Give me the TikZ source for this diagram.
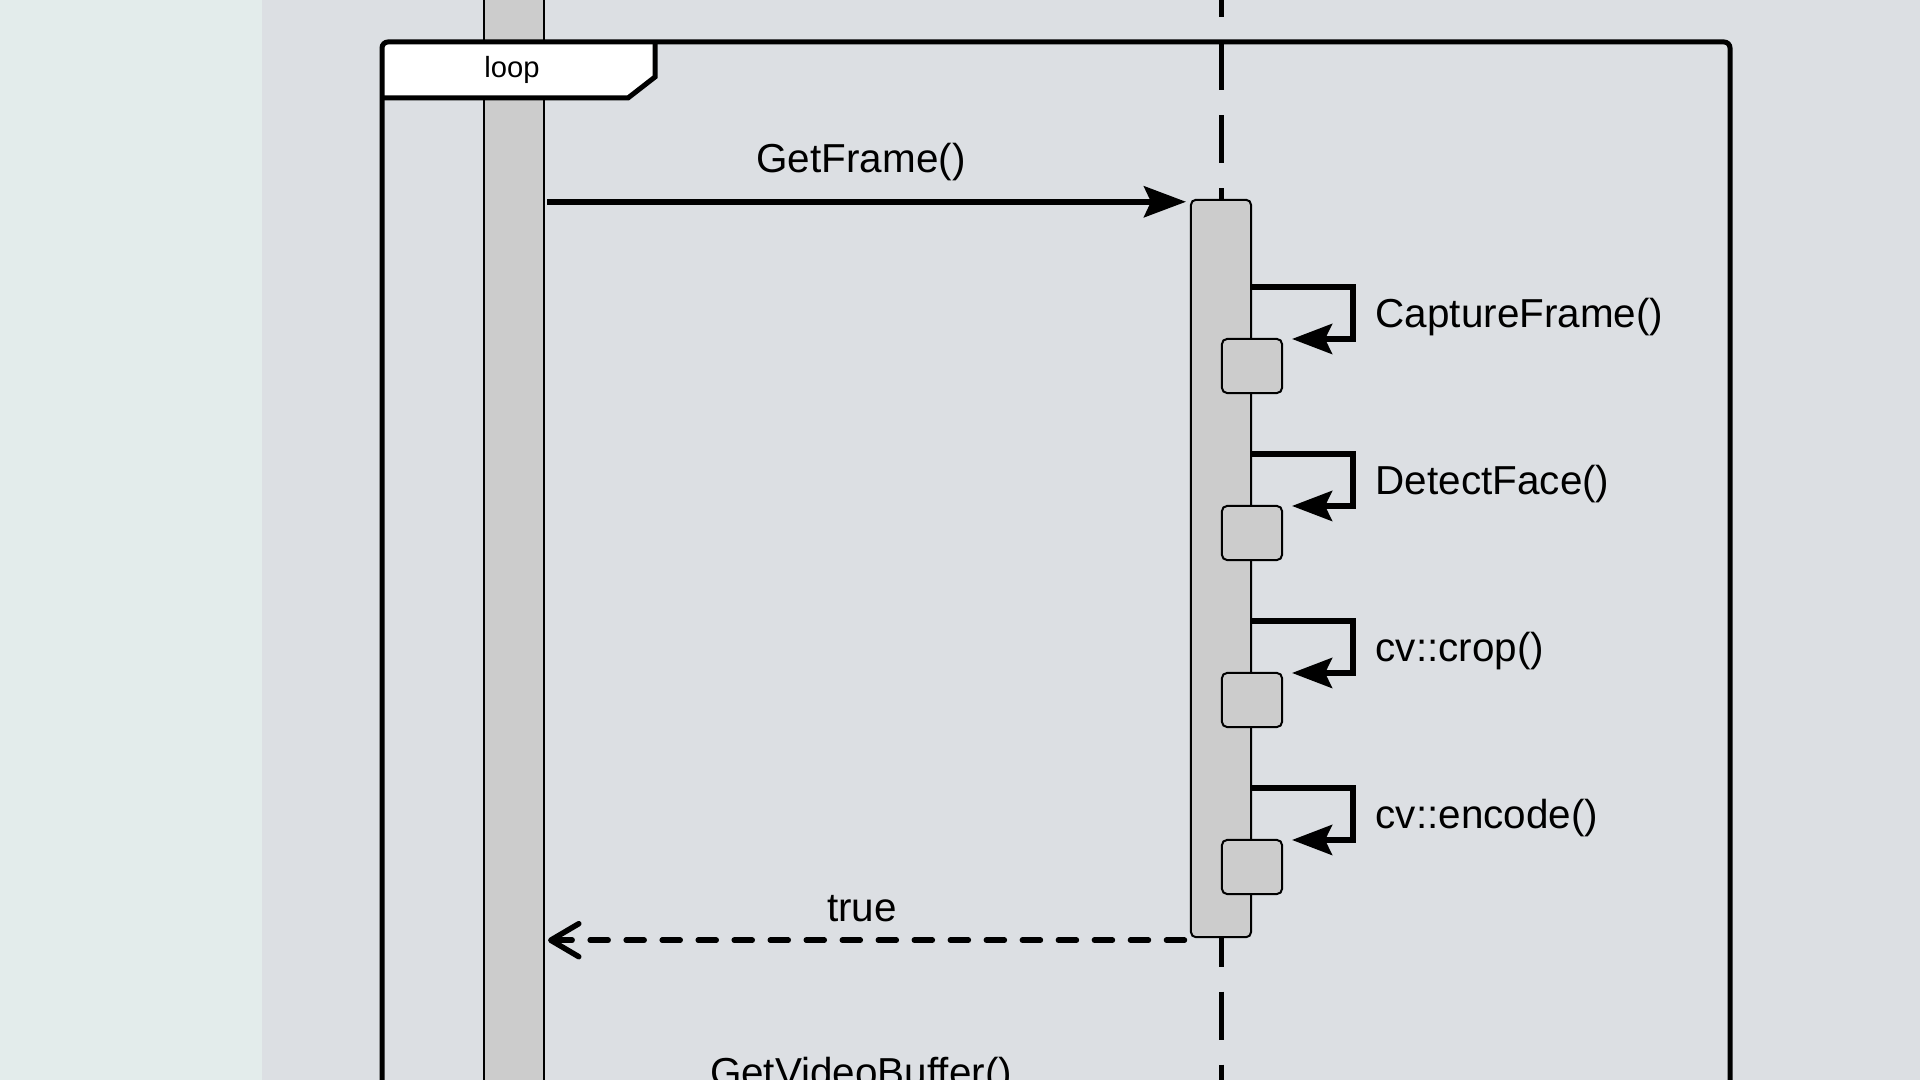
\documentclass[tikz,border=0pt]{standalone}
\usepackage{fontspec}
\setmainfont{Liberation Sans}
\usepackage{tikz}
\usetikzlibrary{calc, arrows.meta}
\definecolor{sidebg}{HTML}{E3ECEB}
\definecolor{pagebg}{HTML}{DCDFE3}
\definecolor{actgray}{HTML}{CCCCCC}
\tikzstyle{bar}     = [draw, fill=actgray, line width=0.02cm, inner sep=0, minimum width=0.6cm]
\tikzstyle{act}     = [bar, rounded corners=0.05cm]
\tikzstyle{msg}     = [line width=0.055cm, -{Stealth[length=0.42cm, width=0.31cm, inset=0.07cm]}]
\tikzstyle{selfmsg} = [line width=0.055cm, -{Stealth[length=0.40cm, width=0.30cm, inset=0.07cm]}]
\tikzstyle{reply}   = [line width=0.055cm, line cap=round, dash pattern=on 0.18cm off 0.18cm,
                       -{Straight Barb[length=0.28cm, width=0.33cm, round]}]
\tikzstyle{msgtext} = [font=\fontsize{11.5pt}{13pt}\selectfont, inner sep=0, anchor=base]

\begin{document}
\begin{tikzpicture}[x=0.01cm, y=-0.01cm]
  \useasboundingbox (0,0) rectangle (1920,1080);
  \clip (0,0) rectangle (1920,1080);

  % backdrop
  \fill[pagebg] (0,0) rectangle (1920,1080);
  \fill[sidebg] (0,0) rectangle (262,1080);

  % lifelines
  \node[bar, minimum height=11.4cm] (client) at (514,540) {};
  \coordinate (camtop) at (1221,-31);
  \coordinate (cambot) at (1221,1120);
  \draw[line width=0.05cm, dash pattern=on 0.48cm off 0.25cm] (camtop) -- (cambot);

  % loop frame
  \fill[white] (382,42) -- (655,42) -- (655,77) -- (628,98) -- (382,98) -- cycle;
  \draw[line width=0.05cm] (382,98) -- (628,98) -- (655,77) -- (655,42);
  \draw[line width=0.05cm, rounded corners=0.06cm] (382,1150) -- (382,42) -- (1730,42) -- (1730,1150);
  \node[font=\fontsize{8.3pt}{10pt}\selectfont, inner sep=0] (loop) at (512,70) {loop};

  % activation
  \node[act, minimum height=7.37cm] (frameact) at (1221,568.5) {};

  \coordinate (req) at ([yshift=-0.03cm]frameact.north west);
  \draw[msg, shorten <=0.02cm, shorten >=0.04cm] (client.east |- req) -- (req);
  \node[msgtext] (getframe) at (861,173) {GetFrame()};

  % self calls
  \foreach \yc/\txt [count=\i] in {366/CaptureFrame(), 533/DetectFace(), 700/cv::crop(), 867/cv::encode()}
  {
    \node[act, minimum height=0.54cm] (box\i) at (1252,\yc) {};
    \coordinate (call\i) at ($(box\i.north)+(0,-51)$);
    \draw[selfmsg] (frameact.east |- call\i) -| ($(box\i.north east)+(70,1)$) -- ($(box\i.north east)+(9,1)$);
    \node[msgtext, anchor=base west] (name\i) at ($(box\i.north east)+(92,-10)$) {\txt};
  }

  % return
  \coordinate (ret) at ([yshift=-0.02cm]frameact.south west);
  \draw[reply, shorten <=0.055cm, shorten >=0.03cm] (ret) -- (client.east |- ret);
  \node[msgtext] (true) at (862,922) {true};
  \node[msgtext] (getbuf) at (861,1087) {GetVideoBuffer()};
\end{tikzpicture}
\end{document}
